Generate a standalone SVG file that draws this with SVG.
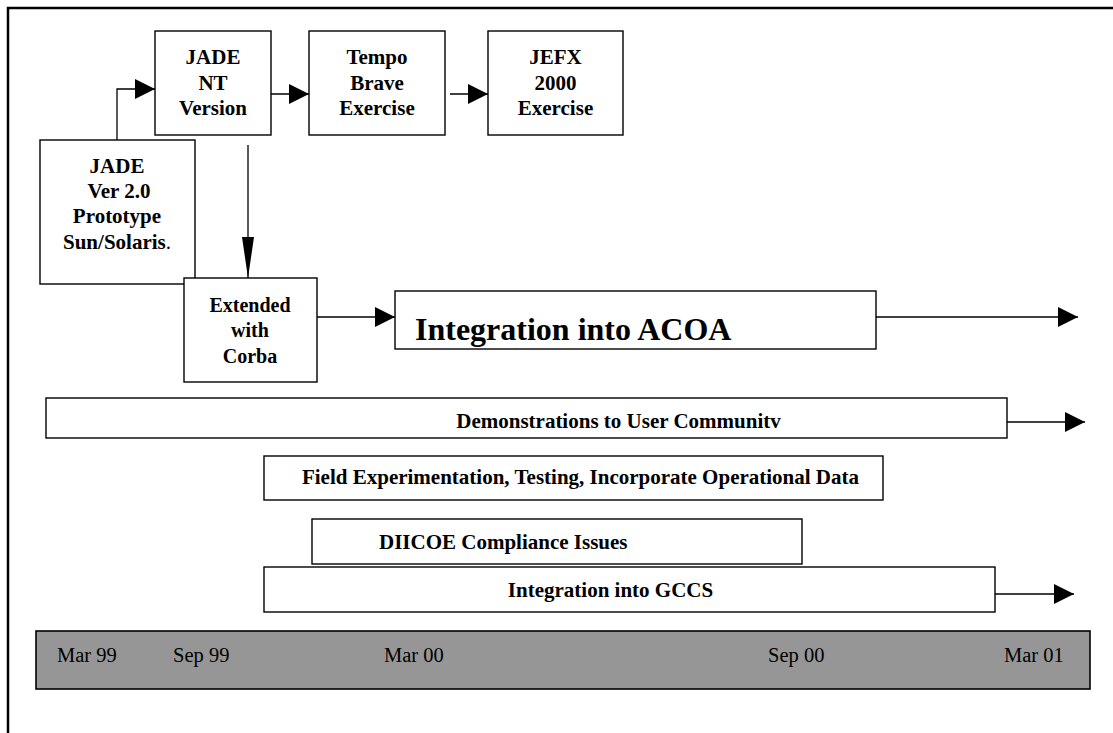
<svg xmlns="http://www.w3.org/2000/svg" width="1113" height="733" viewBox="0 0 1113 733">
<style>
.box{fill:#fff;stroke:#000;stroke-width:1.4}
.bar{fill:#969696;stroke:#000;stroke-width:1.6}
.frame{fill:none;stroke:#000;stroke-width:2.5}
.con{fill:none;stroke:#000;stroke-width:1.3}
.b{font-family:"Liberation Serif","Times New Roman",serif;font-weight:bold;font-size:21px;fill:#000}
.m{text-anchor:middle}
.sm{font-size:20px}
.big{font-size:32px}
.r{font-family:"Liberation Serif","Times New Roman",serif;font-size:20.5px;fill:#000}
</style>
<defs>
<marker id="ah" viewBox="0 0 20 20" refX="20" refY="10" markerWidth="20" markerHeight="20" markerUnits="userSpaceOnUse" orient="auto">
<path d="M0,0 L20,10 L0,20 z" fill="#000"/>
</marker>
<marker id="ahn" viewBox="0 0 41 12" refX="41" refY="6" markerWidth="41" markerHeight="12" markerUnits="userSpaceOnUse" orient="auto">
<path d="M0,0 L41,6 L0,12 z" fill="#000"/>
</marker>
</defs>
<rect width="1113" height="733" fill="#fff"/>
<path class="frame" d="M8,733 V8 H1113"/>

<g id="connectors">
<path class="con" d="M117,140 V89 H155" marker-end="url(#ah)"/>
<path class="con" d="M271,94 H309" marker-end="url(#ah)"/>
<path class="con" d="M450,94 H488" marker-end="url(#ah)"/>
<path class="con" d="M248,145 V278" marker-end="url(#ahn)"/>
<path class="con" d="M317,317 H395" marker-end="url(#ah)"/>
<path class="con" d="M876,317 H1078" marker-end="url(#ah)"/>
<path class="con" d="M1007,422 H1085" marker-end="url(#ah)"/>
<path class="con" d="M995,594 H1074" marker-end="url(#ah)"/>
</g>

<g id="jade-nt">
<rect class="box" x="155" y="31" width="116" height="104"/>
<text class="b m" x="213" y="64">JADE</text>
<text class="b m" x="213" y="89.5">NT</text>
<text class="b m" x="213" y="115">Version</text>
</g>
<g id="tempo">
<rect class="box" x="309" y="31" width="136" height="104"/>
<text class="b m" x="377" y="64">Tempo</text>
<text class="b m" x="377" y="89.5">Brave</text>
<text class="b m" x="377" y="115">Exercise</text>
</g>
<g id="jefx">
<rect class="box" x="488" y="31" width="135" height="104"/>
<text class="b m" x="555.5" y="64">JEFX</text>
<text class="b m" x="555.5" y="89.5">2000</text>
<text class="b m" x="555.5" y="115">Exercise</text>
</g>
<g id="jade-v2">
<rect class="box" x="40" y="140" width="155" height="144"/>
<text class="b m" x="117" y="173">JADE</text>
<text class="b m" x="119" y="198">Ver 2.0</text>
<text class="b m" x="117" y="223">Prototype</text>
<text class="b m" x="117" y="249">Sun/Solaris<tspan font-weight="normal">.</tspan></text>
</g>
<g id="extended">
<rect class="box" x="184" y="278" width="133" height="104"/>
<text class="b m sm" x="250" y="312">Extended</text>
<text class="b m sm" x="250" y="337">with</text>
<text class="b m sm" x="250" y="363">Corba</text>
</g>
<g id="acoa">
<rect class="box" x="395" y="291" width="481" height="58"/>
<text class="b big" x="415" y="340">Integration into ACOA</text>
</g>
<g id="demos">
<rect class="box" x="46" y="398" width="961" height="40"/>
<text class="b m" x="618.5" y="428">Demonstrations to User Communitv</text>
</g>
<g id="field">
<rect class="box" x="264" y="456" width="619" height="44"/>
<text class="b m" x="580.5" y="484">Field Experimentation, Testing, Incorporate Operational Data</text>
</g>
<g id="diicoe">
<rect class="box" x="312" y="519" width="490" height="45"/>
<text class="b" x="379" y="549">DIICOE Compliance Issues</text>
</g>
<g id="gccs">
<rect class="box" x="264" y="567" width="731" height="45"/>
<text class="b m" x="610.5" y="597">Integration into GCCS</text>
</g>
<g id="timeline">
<rect class="bar" x="36" y="631" width="1054" height="58"/>
<text class="r" x="57" y="662">Mar 99</text>
<text class="r" x="173" y="662">Sep 99</text>
<text class="r" x="384" y="662">Mar 00</text>
<text class="r" x="768" y="662">Sep 00</text>
<text class="r" x="1004" y="662">Mar 01</text>
</g>
</svg>
